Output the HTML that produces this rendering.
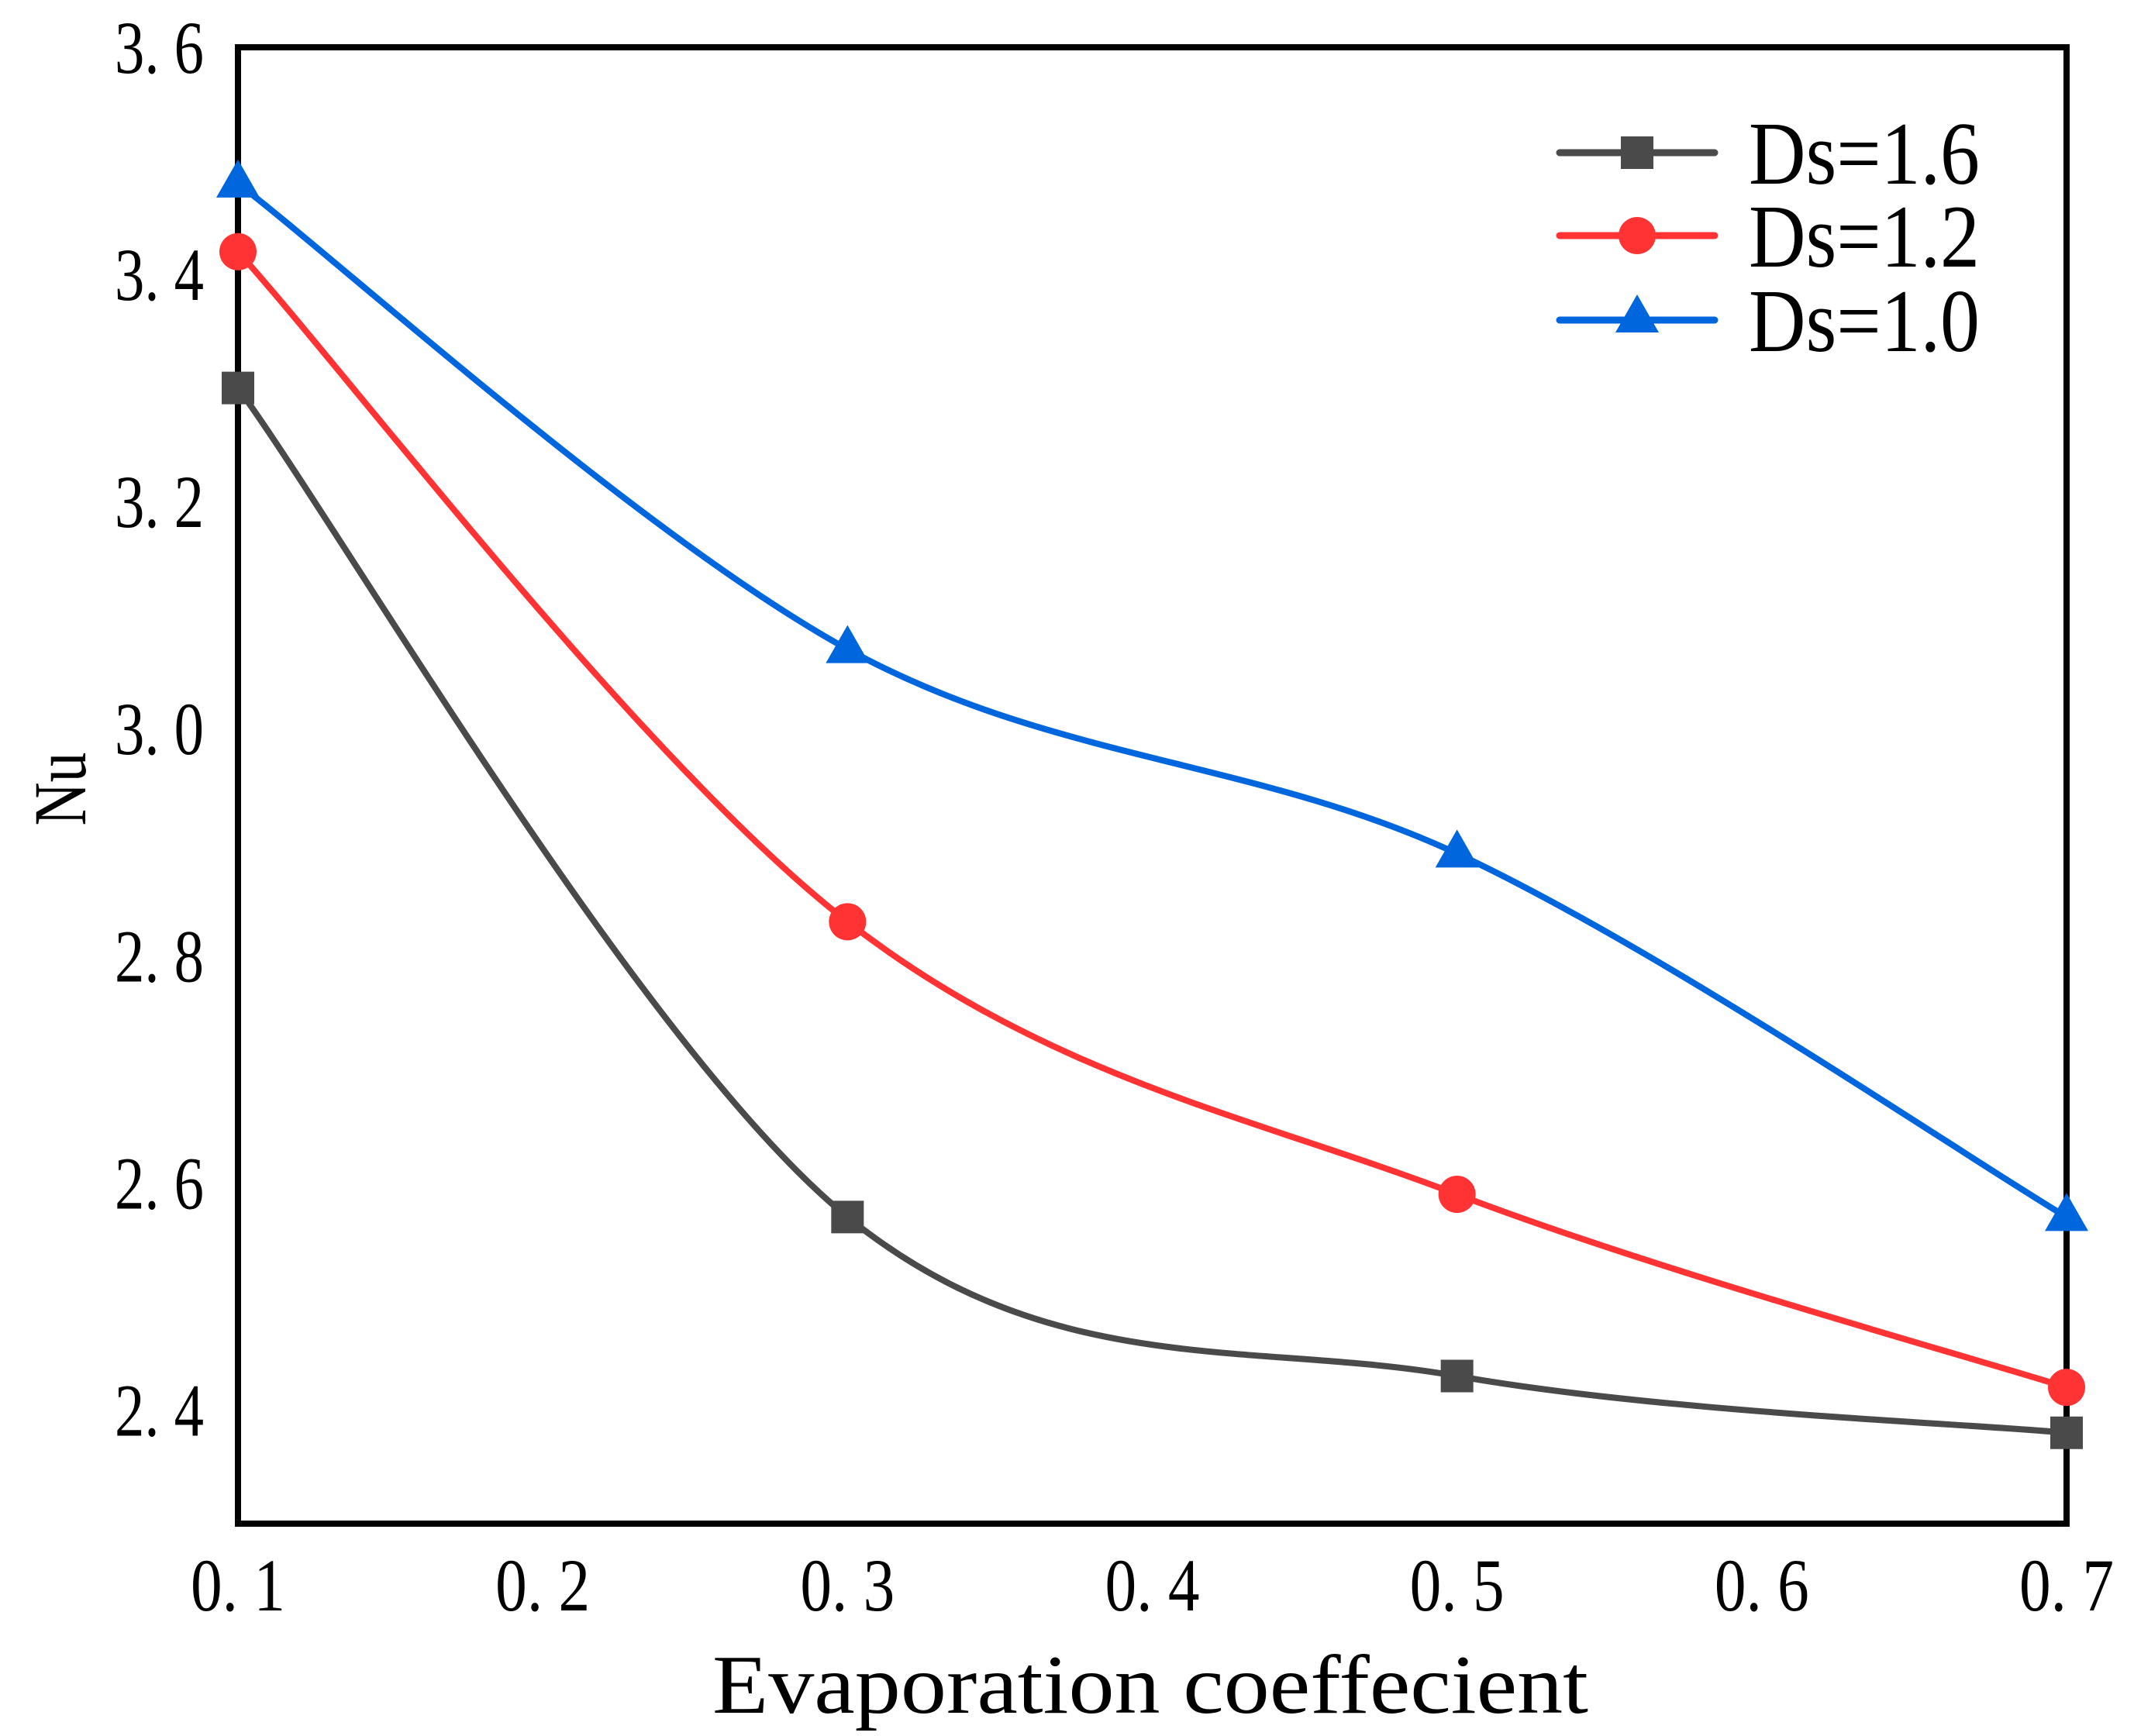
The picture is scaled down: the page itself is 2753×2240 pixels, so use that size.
<!DOCTYPE html>
<html><head><meta charset="utf-8"><style>
html,body{margin:0;padding:0;background:#fff;}
svg{display:block;}
text{font-family:"Liberation Serif","Noto Serif CJK SC",serif;fill:#000;}
</style></head><body>
<svg id="chart" width="2753" height="2240" viewBox="0 0 2753 2240" xmlns="http://www.w3.org/2000/svg"></svg>
<script>
const categories = [0.1, 0.3, 0.5, 0.7];
const xTicks = [0.1, 0.2, 0.3, 0.4, 0.5, 0.6, 0.7];
const xTickLabels = ["0. 1","0. 2","0. 3","0. 4","0. 5","0. 6","0. 7"];
const yTicks = [2.4, 2.6, 2.8, 3.0, 3.2, 3.4, 3.6];
const yTickLabels = ["2. 4","2. 6","2. 8","3. 0","3. 2","3. 4","3. 6"];
const seriesNames = ["Ds=1.6","Ds=1.2","Ds=1.0"];
const ds16 = [3.30, 2.57, 2.43, 2.38];
const ds12 = [3.42, 2.83, 2.59, 2.42];
const ds10 = [3.48, 3.07, 2.89, 2.57];

const NS = "http://www.w3.org/2000/svg";
const svg = document.getElementById('chart');
const L=307, R=2666, T=61, B=1966, X0=0.1, X1=0.7, Y0=2.3, Y1=3.6;
function xs(v){return L+(v-X0)/(X1-X0)*(R-L);}
function ys(v){return B-(v-Y0)/(Y1-Y0)*(B-T);}
function mk(tag, attrs, parent){const e=document.createElementNS(NS,tag);for(const k in attrs)e.setAttribute(k,attrs[k]);(parent||svg).appendChild(e);return e;}

const frame = mk('rect',{x:L,y:T,width:R-L,height:B-T,fill:'none',stroke:'#000','stroke-width':8});



xTicks.forEach((v,i)=>{
  const t=mk('text',{x:xs(v),y:2078,'font-size':96,'text-anchor':'middle',textLength:122,lengthAdjust:'spacingAndGlyphs'});
  t.textContent=xTickLabels[i];
  
  
});
yTicks.forEach((v,i)=>{
  const t=mk('text',{x:263,y:ys(v)+33,'font-size':96,'text-anchor':'end',textLength:115,lengthAdjust:'spacingAndGlyphs'});
  t.textContent=yTickLabels[i];
  
  
});

const xt=mk('text',{x:1484,y:2210,'font-size':108,'text-anchor':'middle',textLength:1130,lengthAdjust:'spacingAndGlyphs'});
xt.textContent='Evaporation coeffecient';


const yt=mk('text',{x:0,y:0,'font-size':96,'text-anchor':'middle',textLength:95,lengthAdjust:'spacingAndGlyphs',transform:'translate(110,1018) rotate(-90)'});
yt.textContent='Nu';



function curvePath(vals){
  const p=vals.map((v,i)=>[xs(categories[i]),ys(v)]);
  let d='M'+p[0][0]+','+p[0][1];
  for(let i=0;i<p.length-1;i++){
    const p0=p[i-1]||p[i], p1=p[i], p2=p[i+1], p3=p[i+2]||p[i+1];
    const c1=[p1[0]+(p2[0]-p0[0])/6, p1[1]+(p2[1]-p0[1])/6];
    const c2=[p2[0]-(p3[0]-p1[0])/6, p2[1]-(p3[1]-p1[1])/6];
    d+=' C'+c1+' '+c2+' '+p2;
  }
  return d;
}
function marker(type,x,y,color,g){
  let m;
  if(type==='square') m=mk('rect',{x:x-21,y:y-21,width:42,height:42,fill:color},g);
  else if(type==='circle') m=mk('circle',{cx:x,cy:y,r:24,fill:color},g);
  else m=mk('polygon',{points:(x)+','+(y-31)+' '+(x-28)+','+(y+18)+' '+(x+28)+','+(y+18),fill:color},g);
  return m;
}
const series=[[ds16,'#4a4a4a','square'],[ds12,'#ff3333','circle'],[ds10,'#0066dd','triangle']];
series.forEach((s,si)=>{
  const g=mk('g',{});
  
  
  const path=mk('path',{d:curvePath(s[0]),fill:'none',stroke:s[1],'stroke-width':8},g);
  
  
  s[0].forEach((v,i)=>{
    const m=marker(s[2],xs(categories[i]),ys(v),s[1],g);
    
    
  });
});

const legendY=[197,304,413];
series.forEach((s,si)=>{
  const g=mk('g',{});
  
  
  mk('line',{x1:2012,y1:legendY[si],x2:2212,y2:legendY[si],stroke:s[1],'stroke-width':9,'stroke-linecap':'round'},g);
  marker(s[2],2112,legendY[si]+(s[2]==='triangle'?-2:0),s[1],g);
  const t=mk('text',{x:2256,y:legendY[si]+40,'font-size':116,textLength:298,lengthAdjust:'spacingAndGlyphs'},g);
  t.textContent=seriesNames[si];
});
</script>
</body></html>
